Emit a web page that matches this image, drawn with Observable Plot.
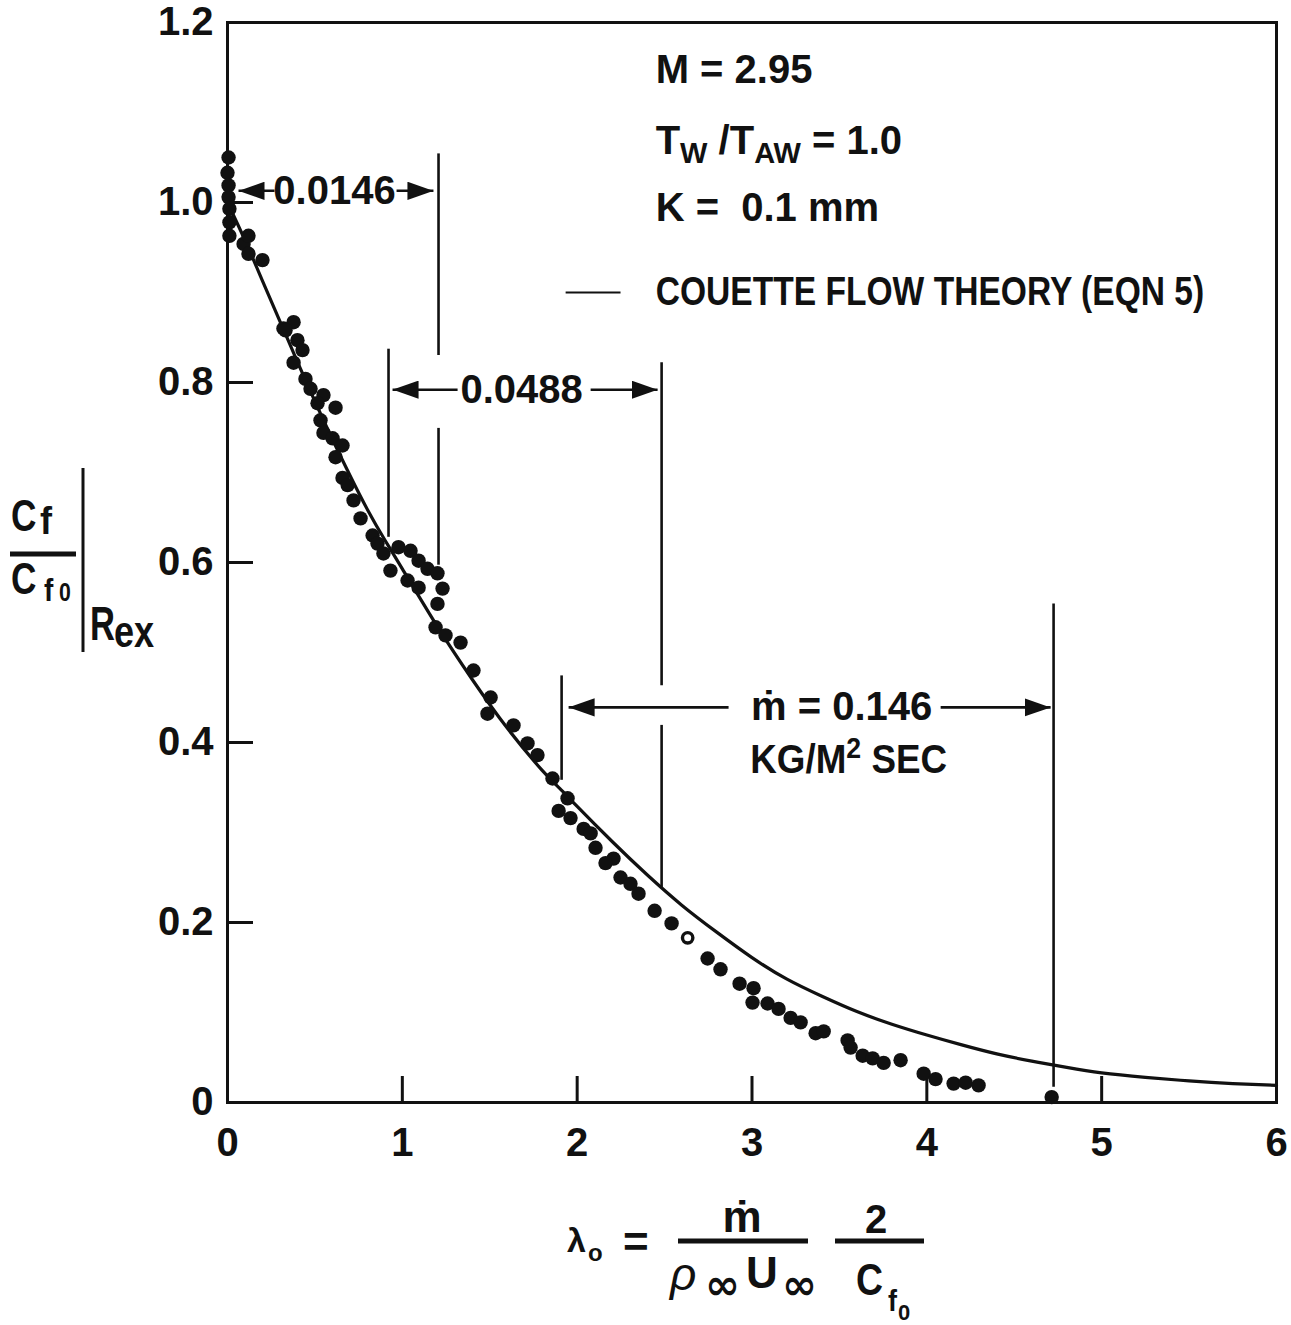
<!DOCTYPE html>
<html>
<head>
<meta charset="utf-8">
<script src="https://cdn.jsdelivr.net/npm/d3@7"></script>
<script src="https://cdn.jsdelivr.net/npm/@observablehq/plot@0.6"></script>
<style>
  body { margin: 0; background: #fff; }
  #chart { width: 1291px; height: 1325px; }
</style>
</head>
<body>
<div id="chart"></div>
<script>
// ---------- data ----------
const xTicks = [0, 1, 2, 3, 4, 5, 6];
const yTicks = [0, 0.2, 0.4, 0.6, 0.8, 1.0, 1.2];
const innerTicksX = [1, 2, 3, 4, 5];
const innerTicksY = [0.2, 0.4, 0.6, 0.8, 1.0];

// measured skin-friction ratios (filled circles)
const dataX = [0.006,0.0,0.006,0.006,0.011,0.011,0.011,0.092,0.120,0.120,0.200,
  0.320,0.378,0.332,0.400,0.429,0.378,0.446,0.475,0.549,0.618,0.515,0.532,0.549,0.601,0.658,
  0.618,0.658,0.687,0.721,0.761,0.830,0.858,0.892,0.932,0.978,1.047,1.093,1.144,1.201,1.030,
  1.093,1.230,1.201,1.190,1.247,1.333,1.407,1.505,1.487,1.636,1.716,1.773,1.859,1.945,1.894,
  1.962,2.037,2.077,2.105,2.208,2.162,2.248,2.305,2.351,2.443,2.540,2.746,2.820,2.929,
  3.009,3.003,3.089,3.152,3.221,3.278,3.364,3.410,3.547,3.564,3.633,3.690,3.753,3.850,3.982,
  4.050,4.153,4.222,4.296,4.714];
const dataY = [1.050,1.033,1.019,1.006,0.993,0.978,0.963,0.954,0.963,0.943,0.936,
  0.860,0.867,0.858,0.847,0.836,0.822,0.804,0.793,0.786,0.772,0.777,0.758,0.744,0.738,0.730,
  0.717,0.694,0.686,0.669,0.649,0.630,0.621,0.610,0.591,0.617,0.613,0.602,0.593,0.588,0.580,
  0.572,0.571,0.554,0.528,0.519,0.511,0.480,0.450,0.432,0.419,0.399,0.386,0.360,0.338,0.324,
  0.316,0.304,0.299,0.283,0.271,0.266,0.250,0.243,0.232,0.213,0.199,0.160,0.148,0.132,
  0.127,0.111,0.110,0.104,0.094,0.089,0.077,0.079,0.069,0.061,0.052,0.049,0.044,0.047,0.032,
  0.026,0.021,0.022,0.019,0.006];
// single open circle
const openX = [2.632];
const openY = [0.183];

// Couette flow theory (Eqn 5)
const theoryX = [0,0.1,0.2,0.3,0.4,0.5,0.6,0.7,0.8,0.9,1.0,1.2,1.4,1.6,1.8,1.9,2.0,2.2,2.4,2.6,2.8,
  3.0,3.2,3.4,3.6,3.8,4.0,4.2,4.4,4.6,4.8,5.0,5.25,5.5,5.75,6.0];
const theoryY = [1.0,0.958,0.913,0.868,0.823,0.779,0.737,0.697,0.659,0.625,0.593,0.529,0.470,0.416,0.369,0.349,0.329,0.290,0.253,0.219,0.189,
  0.161,0.137,0.118,0.101,0.087,0.075,0.064,0.054,0.046,0.039,0.033,0.028,0.024,0.021,0.019];

// vertical bracket lines marking the blowing-rate ranges
const bracketX  = [0.921, 1.207, 1.207, 1.911, 2.483, 2.483, 4.725];
const bracketY1 = [0.837, 1.054, 0.749, 0.474, 0.822, 0.419, 0.554];
const bracketY2 = [0.628, 0.830, 0.597, 0.358, 0.463, 0.239, 0.017];

// dimension arrows (from -> tip)
const arrowFrom = [0.269, 0.967, 1.316, 2.077, 2.866, 4.079];
const arrowTip  = [0.063, 1.178, 0.944, 2.460, 1.951, 4.708];
const arrowY    = [1.013, 1.013, 0.792, 0.792, 0.439, 0.439];

// annotation texts
const noteText = ["0.0146", "0.0488", "\u1E41 = 0.146", "KG/M2 SEC"];
const noteX = [0.612, 1.682, 3.513, 3.553];
const noteY = [1.013, 0.792, 0.439, 0.380];

// legend block
const legendText = ["M = 2.95", "TW /TAW = 1.0", "K =\u00a0 0.1 mm", "COUETTE FLOW THEORY (EQN 5)"];
const legendX = 2.449;
const legendY = [1.147, 1.068, 0.994, 0.900];
const legendLineX = [1.934, 2.248];

// ---------- build tables ----------
const points = dataX.map((x, i) => ({x, y: dataY[i]}));
const openPts = openX.map((x, i) => ({x, y: openY[i]}));
const theory = theoryX.map((x, i) => ({x, y: theoryY[i]}));
const brackets = bracketX.map((x, i) => ({x, y1: bracketY1[i], y2: bracketY2[i]}));
const arrows = arrowFrom.map((x1, i) => ({x1, x2: arrowTip[i], y: arrowY[i]}));
const notes = noteText.map((t, i) => ({t, x: noteX[i], y: noteY[i]}));
const legend = legendText.map((t, i) => ({t, x: legendX, y: legendY[i]}));
const legendLine = [{x1: legendLineX[0], x2: legendLineX[1], y: legendY[3]}];

const INK = "#111";
const FONT = "'Liberation Sans', Arial, sans-serif";
const W = 1291, H = 1325;
const M = {left: 227, right: 15, top: 22, bottom: 223};
const innerW = W - M.left - M.right, innerH = H - M.top - M.bottom;

function filledHead(color, context) {
  const doc = (context && context.document) || document;
  const ns = "http://www.w3.org/2000/svg";
  const m = doc.createElementNS(ns, "marker");
  m.setAttribute("viewBox", "-10 -3.5 10 7");
  m.setAttribute("markerWidth", "10");
  m.setAttribute("markerHeight", "7");
  m.setAttribute("refX", "0");
  m.setAttribute("refY", "0");
  m.setAttribute("orient", "auto");
  m.setAttribute("fill", color);
  m.setAttribute("stroke", "none");
  const p = doc.createElementNS(ns, "path");
  p.setAttribute("d", "M-10,-3.5L0,0L-10,3.5Z");
  m.appendChild(p);
  return m;
}

function build(marker) {
  return Plot.plot({
    width: W, height: H,
    marginLeft: M.left, marginRight: M.right, marginTop: M.top, marginBottom: M.bottom,
    x: {domain: [0, 6]},
    y: {domain: [0, 1.2]},
    style: {fontFamily: FONT, fontWeight: "bold", fontSize: "40px", color: INK, background: "white", overflow: "visible"},
    marks: [
      Plot.axisX(xTicks, {tickSize: 0, tickPadding: 25, label: null, fontSize: 40, fontWeight: "bold",
        tickFormat: d => String(d)}),
      Plot.axisY(yTicks, {tickSize: 0, tickPadding: 14, label: null, fontSize: 40, fontWeight: "bold",
        tickFormat: d => d === 0 ? "0" : d.toFixed(1)}),
      Plot.tickX(innerTicksX, {x: d => d, insetTop: innerH - 26, stroke: INK, strokeWidth: 3}),
      Plot.tickY(innerTicksY, {y: d => d, insetRight: innerW - 26, stroke: INK, strokeWidth: 3}),
      Plot.line(theory, {x: "x", y: "y", curve: "natural", stroke: INK, strokeWidth: 3.2}),
      Plot.ruleX(brackets, {x: "x", y1: "y1", y2: "y2", stroke: INK, strokeWidth: 2.6}),
      Plot.link(arrows, {x1: "x1", x2: "x2", y1: "y", y2: "y", stroke: INK, strokeWidth: 2.6, markerEnd: marker}),
      Plot.link(legendLine, {x1: "x1", x2: "x2", y1: "y", y2: "y", stroke: INK, strokeWidth: 2.2}),
      Plot.dot(points, {x: "x", y: "y", r: 7.2, fill: INK, stroke: "none"}),
      Plot.dot(openPts, {x: "x", y: "y", r: 5.2, fill: "white", stroke: INK, strokeWidth: 3.4}),
      Plot.text(notes, {x: "x", y: "y", text: "t", textAnchor: "middle", fontSize: 40, fontWeight: "bold", fill: INK}),
      Plot.text(legend, {x: "x", y: "y", text: "t", textAnchor: "start", fontSize: 40, fontWeight: "bold", fill: INK}),
      Plot.frame({stroke: INK, strokeWidth: 3})
    ]
  });
}

let chart;
try { chart = build(filledHead); } catch (e) { chart = build("arrow"); }

const svg = d3.select(chart);

// condensed look: horizontal squeeze per text (about the text's own anchor)
const squeeze = {
  "COUETTE FLOW THEORY (EQN 5)": 0.84,
  "KG/M2 SEC": 0.92
};
svg.selectAll("text").each(function() {
  const sx = squeeze[this.textContent];
  if (!sx) return;
  const x = parseFloat(this.getAttribute("x")) || 0;
  const tr = this.getAttribute("transform") || "";
  this.setAttribute("transform", `${tr} translate(${x},0) scale(${sx},1) translate(${-x},0)`.trim());
});

// rich text (subscripts / superscripts) inside annotation texts
const rich = {
  "TW /TAW = 1.0": [["T", 0], ["W", 1], ["\u00a0/T", 0], ["AW", 1], ["\u00a0= 1.0", 0]],
  "KG/M2 SEC": [["KG/M", 0], ["2", -1], ["\u00a0SEC", 0]]
};
svg.selectAll("text").each(function() {
  const key = this.textContent;
  if (!rich[key]) return;
  const el = d3.select(this);
  el.text(null);
  let prev = 0;
  for (const [s, k] of rich[key]) {
    const shift = k === 1 ? 9 : k === -1 ? -15 : 0;
    el.append("tspan")
      .attr("dy", (shift - prev) + "px")
      .attr("font-size", k === 0 ? null : "29px")
      .text(s);
    prev = shift;
  }
});

// axis titles
const g = svg.append("g").attr("fill", INK).attr("font-family", FONT)
  .attr("font-weight", "bold").attr("text-anchor", "start");
function t(x, y, s, size, sx = 1, extra = {}) {
  const e = g.append("text").attr("transform", `translate(${x},${y}) scale(${sx},1)`)
    .attr("font-size", size).text(s);
  for (const k in extra) e.attr(k, extra[k]);
  return e;
}
function bar(x1, y1, x2, y2, w) {
  g.append("line").attr("x1", x1).attr("y1", y1).attr("x2", x2).attr("y2", y2)
    .attr("stroke", INK).attr("stroke-width", w);
}
// y title:  Cf / Cf0 | Rex
t(11, 531, "C", 44, 0.8);
t(40, 534, "f", 38, 0.95);
bar(10, 554, 76, 554, 5);
t(11, 594, "C", 44, 0.8);
t(44, 601, "f", 31, 0.9);
t(59, 601, "0", 25, 0.85);
bar(83, 468, 83, 652, 3);
t(90, 640, "R", 48, 0.72);
t(114, 647, "ex", 44, 0.82);
// x title: lambda0 = mdot/(rho U) * 2/Cf0
t(567, 1252, "\u03BB", 34);
t(588, 1261, "o", 24);
t(623, 1257, "=", 44);
t(742, 1232, "\u1E41", 44, 1, {"text-anchor": "middle"});
bar(678, 1241, 808, 1241, 5);
t(670, 1290, "\u03C1", 46, 1, {"font-style": "italic", "font-weight": "normal"});
t(705, 1299, "\u221E", 42, 1, {"font-family": "'DejaVu Sans', sans-serif"});
t(746, 1288, "U", 44);
t(782, 1299, "\u221E", 42, 1, {"font-family": "'DejaVu Sans', sans-serif"});
t(876, 1233, "2", 40, 1, {"text-anchor": "middle"});
bar(835, 1241, 924, 1241, 5);
t(856, 1295, "C", 44, 0.85);
t(888, 1311, "f", 30, 0.9);
t(898, 1320, "0", 22);

document.getElementById("chart").appendChild(chart);
</script>
</body>
</html>
